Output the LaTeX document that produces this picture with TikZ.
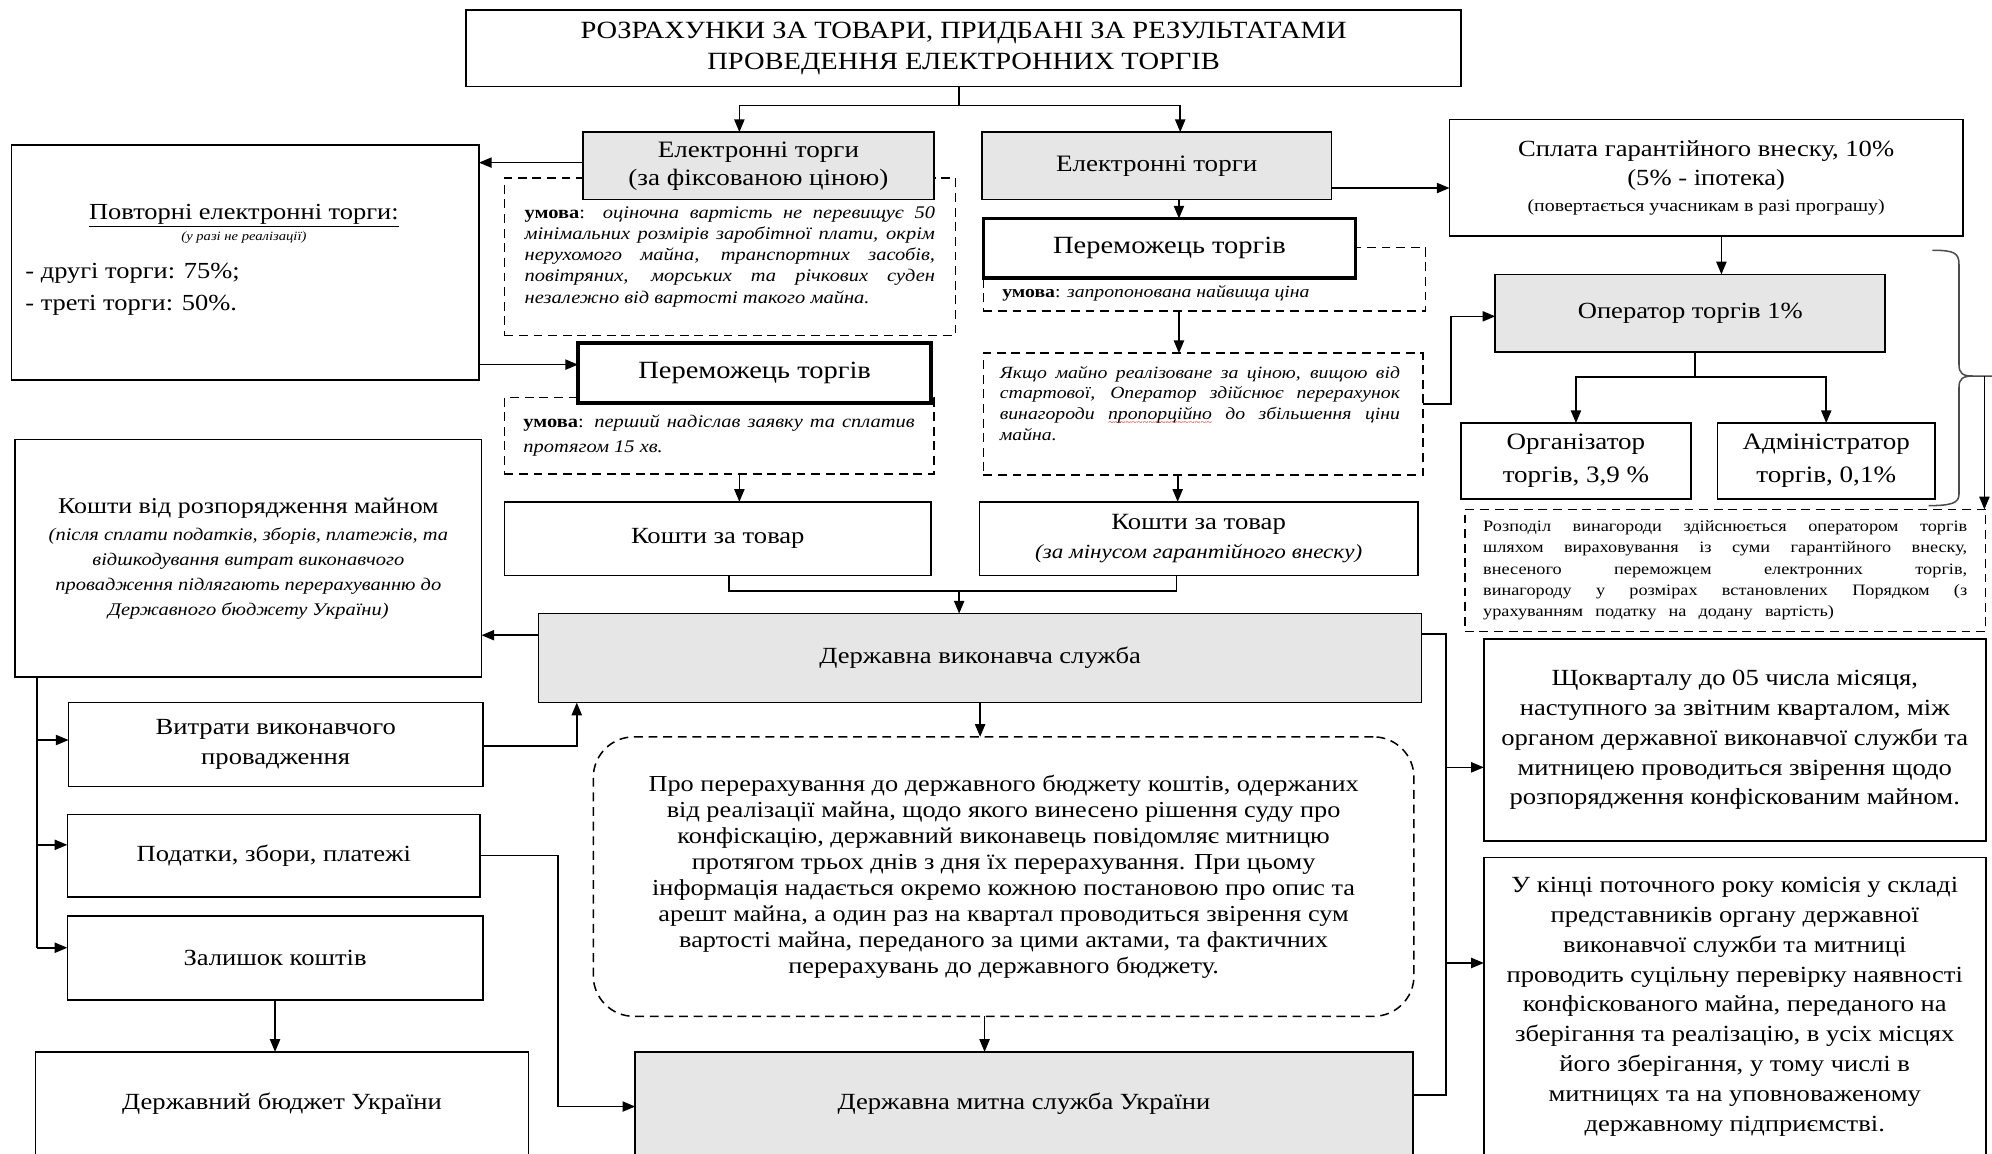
\documentclass[tikz,border=0pt]{standalone}
\usepackage{fontspec}
\setmainfont{Liberation Serif}[FakeStretch=1.15]
\usetikzlibrary{arrows.meta,calc}
\definecolor{boxgray}{RGB}{230,230,230}
\newcommand{\setfs}[2]{\fontsize{#1}{#2}\selectfont}
% wavy red underline (spell-check mark) made of small tildes
\newcommand{\redwave}[1]{\setbox0\hbox{#1}\rlap{\raisebox{-4.5pt}{\color{red}\hbox to \wd0{\xleaders\hbox{\upshape\setfs{7}{7}\char"7E}\hfill}}}\box0\relax}
\newcommand{\cond}{{\upshape\bfseries умова}{\upshape:}}
\begin{document}
\begin{tikzpicture}[x=1pt, y=-1pt,
  base/.style={inner sep=0pt, outer sep=0pt, align=center, line width=1.3pt},
  wh/.style 2 args={minimum width=#1, minimum height=#2},
  box/.style={base, draw, fill=white},
  gbox/.style={base, draw, fill=boxgray},
  tbox/.style={base, draw, fill=white, line width=2.8pt},
  dbox/.style={base, draw, line width=1.2pt, dash pattern=on 7pt off 4.5pt},
  rbox/.style={dbox, rounded corners=32pt},
  txt/.style={inner sep=0pt, outer sep=0pt},
  arr/.style={line width=1.3pt, -{Triangle[length=10pt,width=8pt]}},
  ln/.style={line width=1.3pt},
  main/.style={font=\setfs{18.2}{22}},
]
\useasboundingbox (0,0) rectangle (1568,908);
\clip (0,0) rectangle (1568,908);

% ---------- dashed frames (drawn first, solid boxes overlap them) ----------
\node[dbox, wh={355pt}{124pt}, text width=323pt, align=justify, font=\itshape\setfs{14}{16.75}] (d1) at (574.5,202)
 {\cond{} оціночна вартість не перевищує 50\linebreak
  мінімальних розмірів заробітної плати, окрім\linebreak
  нерухомого майна, транспортних засобів,\linebreak
  повітряних, морських та річкових суден\linebreak
  незалежно від вартості такого майна.};
\node[dbox, wh={338pt}{60pt}, text width=308pt, align=justify, font=\itshape\setfs{14}{20}] (d2) at (566,343)
 {\cond{} перший надіслав заявку та сплатив\linebreak
  протягом 15 хв.};
\node[dbox, wh={348pt}{50pt}] (d3) at (948,220) {};
\node[dbox, wh={346pt}{96pt}] (d4) at (947,326) {};
\node[dbox, wh={410pt}{96pt}, text width=381pt, align=justify, font=\setfs{12.5}{16.75}] (d5) at (1358,449)
 {Розподіл винагороди здійснюється оператором торгів\linebreak
  шляхом вираховування із суми гарантійного внеску,\linebreak
  внесеного переможцем електронних торгів,\linebreak
  винагороду у розмірах встановлених Порядком (з\linebreak
  урахуванням\hspace{6pt} податку\hspace{6pt} на\hspace{6pt} додану\hspace{6pt} вартість)};
\node[rbox, wh={646pt}{220pt}, font=\setfs{18}{20.5}] (rnd) at (790,690)
 {Про перерахування до державного бюджету коштів, одержаних\\
  від реалізації майна, щодо якого винесено рішення суду про\\
  конфіскацію, державний виконавець повідомляє митницю\\
  протягом трьох днів з дня їх перерахування. При цьому\\
  інформація надається окремо кожною постановою про опис та\\
  арешт майна, а один раз на квартал проводиться звірення сум\\
  вартості майна, переданого за цими актами, та фактичних\\
  перерахувань до державного бюджету.};

% ---------- top ----------
\node[box, wh={783pt}{60pt}, font=\setfs{19.5}{24}] (title) at (758.5,38)
 {РОЗРАХУНКИ ЗА ТОВАРИ, ПРИДБАНІ ЗА РЕЗУЛЬТАТАМИ\\ПРОВЕДЕННЯ ЕЛЕКТРОННИХ ТОРГІВ};
\node[gbox, wh={276pt}{53pt}, font=\setfs{18.5}{22}] (eL) at (597,130.5) {Електронні торги\\(за фіксованою ціною)};
\node[gbox, wh={275pt}{53pt}, font=\setfs{18.5}{22}] (eR) at (910.5,130.5) {Електронні торги};

% ---------- left branch ----------
\node[box, wh={368pt}{185pt}] (povt) at (193,206.5) {};
\node[txt, font=\setfs{18.1}{22}] (povtH) at (192,170) {\underline{Повторні електронні торги:}};
\node[txt, font=\itshape\setfs{10}{12}] (povtS) at (192,187) {(у разі не реалізації)};
\node[txt, anchor=west, align=left, font=\setfs{18.1}{25}] (povtL) at (20,227.5) {- другі торги: 75\%;\\- треті торги: 50\%.};
\node[tbox, wh={278pt}{47pt}, font=\setfs{19.5}{22}] (wL) at (594,293.5) {Переможець торгів};
\node[box, wh={336pt}{58pt}, main] (kL) at (565,424) {Кошти за товар};

% ---------- middle branch ----------
\node[tbox, wh={293pt}{47pt}, font=\setfs{19.5}{22}] (wR) at (920.5,195.5) {Переможець торгів};
\node[txt, anchor=west, font=\itshape\setfs{13.5}{16}] (d3t) at (789,231) {\cond{} запропонована найвища ціна};
\node[txt, text width=315pt, align=justify, font=\itshape\setfs{13.5}{16.3}] (d4t) at (944.5,317.5)
 {Якщо майно реалізоване за ціною, вищою від\linebreak
  стартової, Оператор здійснює перерахунок\linebreak
  винагороди \redwave{пропорційно} до збільшення ціни\linebreak
  майна.};
\node[box, wh={345pt}{58pt}, font=\setfs{18.3}{23}] (kR) at (943.5,424)
 {Кошти за товар\\{\itshape\setfs{15.8}{23}(за мінусом гарантійного внеску)}};

% ---------- right branch ----------
\node[box, wh={404pt}{92pt}, font=\setfs{18.2}{23}] (spl) at (1343,140)
 {Сплата гарантійного внеску, 10\%\\(5\% - іпотека)\\[-3pt]{\setfs{13.6}{15}(повертається учасникам в разі програшу)}};
\node[gbox, wh={307pt}{61pt}, main] (oper) at (1330.5,246.5) {Оператор торгів 1\%};
\node[box, wh={181pt}{60pt}, font=\setfs{18.5}{26}] (org) at (1240.5,363) {Організатор\\торгів, 3,9 \%};
\node[box, wh={171pt}{60pt}, font=\setfs{18.5}{26}] (adm) at (1437.5,363) {Адміністратор\\торгів, 0,1\%};

% ---------- lower part ----------
\node[gbox, wh={695pt}{70pt}, main] (dvs) at (771.5,518) {Державна виконавча служба};
\node[box, wh={367pt}{187pt}, font=\setfs{17.75}{22}] (kv) at (195.5,439.5)
 {Кошти від розпорядження майном\\
  {\itshape\setfs{14}{19.5}(після сплати податків, зборів, платежів, та}\\[-2.5pt]
  {\itshape\setfs{14}{19.5}відшкодування витрат виконавчого}\\[-2.5pt]
  {\itshape\setfs{14}{19.5}провадження підлягають перерахуванню до}\\[-2.5pt]
  {\itshape\setfs{14}{19.5}Державного бюджету України)}};
\node[box, wh={326pt}{66pt}, font=\setfs{18.2}{24}] (vytr) at (217,586) {Витрати виконавчого\\провадження};
\node[box, wh={325pt}{65pt}, main] (pod) at (215.5,673.5) {Податки, збори, платежі};
\node[box, wh={327pt}{66pt}, main] (zal) at (216.5,754) {Залишок коштів};
\node[box, wh={388pt}{82pt}, main] (budg) at (222,869) {Державний бюджет України};
\node[gbox, wh={612pt}{82pt}, main] (dms) at (806,869) {Державна митна служба України};
\node[box, wh={395pt}{159pt}, font=\setfs{18.2}{23.5}] (q) at (1365.5,582.5)
 {Щокварталу до 05 числа місяця,\\
  наступного за звітним кварталом, між\\
  органом державної виконавчої служби та\\
  митницею проводиться звірення щодо\\
  розпорядження конфіскованим майном.};
\node[box, wh={395pt}{235pt}, font=\setfs{18.2}{23.5}] (endb) at (1365.5,792.5)
 {У кінці поточного року комісія у складі\\
  представників органу державної\\
  виконавчої служби та митниці\\
  проводить суцільну перевірку наявності\\
  конфіскованого майна, переданого на\\
  зберігання та реалізацію, в усіх місцях\\
  його зберігання, у тому числі в\\
  митницях та на уповноваженому\\
  державному підприємстві.};

% ---------- connectors ----------
\coordinate (tS) at ([xshift=-3.5pt]title.south);
\coordinate (tj) at ([yshift=-15pt]tS);
\coordinate (aL) at ([xshift=-15pt]eL.north);
\coordinate (aR) at ([xshift=18.5pt]eR.north);
\draw[ln] (tS) -- (tj);
\draw[arr] (tj) -| (aL);
\draw[arr] (tj) -| (aR);

\coordinate (pL) at ([yshift=2.5pt]eL.west);
\draw[arr] (pL) -- (pL -| povt.east);
\coordinate (wIn) at ([yshift=6.5pt]wL.west);
\draw[arr] (wIn -| povt.east) -- (wIn);
\coordinate (kIn) at ([xshift=17pt]kL.north);
\draw[arr] (kIn |- d2.south) -- (kIn);

\coordinate (wRin) at ([xshift=7.5pt]wR.north);
\draw[arr] (wRin |- eR.south) -- (wRin);
\coordinate (d4in) at ([xshift=-19pt]d4.north);
\draw[arr] (d4in |- d3.south) -- (d4in);
\coordinate (kRin) at ([xshift=-16.5pt]kR.north);
\draw[arr] (kRin |- d4.south) -- (kRin);

\coordinate (mL) at ([xshift=9pt]kL.south);
\coordinate (mR) at ([xshift=-17.5pt]kR.south);
\coordinate (mj) at ([xshift=-16.5pt,yshift=18pt]dvs.north);
\draw[ln] (mL) |- (mj) -| (mR);
\draw[arr] (mj) -- (mj |- dvs.north);

\coordinate (sIn) at ([yshift=-8pt]spl.west);
\draw[arr] (sIn -| eR.east) -- (sIn);
\coordinate (oIn) at ([xshift=24.5pt]oper.north);
\draw[arr] (oIn |- spl.south) -- (oIn);
\coordinate (d4o) at ([yshift=8pt]d4.east);
\coordinate (oW) at ([yshift=-2.5pt]oper.west);
\draw[arr] (d4o) -- ++(22,0) |- (oW);
\coordinate (oS) at ([xshift=3.5pt]oper.south);
\coordinate (oj) at ([yshift=-20pt]oS);
\draw[ln] (oS) -- (oj);
\draw[arr] (oj) -| (org.north);
\draw[arr] (oj) -| (adm.north);

% brace gathering the shares, pointing to the distribution note
\draw[line width=1.2pt, black!70] (1521,197) .. controls (1538,197) and (1542,199) .. (1542,208) -- (1542,287)
  .. controls (1542,294) and (1545,296) .. (1553,296) -- (1568,296);
\draw[line width=1.2pt, black!70] (1553,296) .. controls (1545,296) and (1542,298) .. (1542,305) -- (1542,389)
  .. controls (1542,396) and (1536,398) .. (1518,398);
\coordinate (btip) at (1562,296);
\draw[arr] (btip) -- (btip |- d5.north);

\coordinate (dW) at ([yshift=18pt]dvs.west);
\draw[arr] (dW) -- (dW -| kv.east);
\coordinate (kvS) at ([xshift=-166.5pt]kv.south);
\coordinate (aV) at ([yshift=3.5pt]vytr.west);
\coordinate (aP) at ([yshift=8.5pt]pod.west);
\coordinate (aZ) at ([yshift=8pt]zal.west);
\draw[ln] (kvS) -- (kvS |- aZ);
\draw[arr] (kvS |- aV) -- (aV);
\draw[arr] (kvS |- aP) -- (aP);
\draw[arr] (kvS |- aZ) -- (aZ);
\coordinate (vE) at ([yshift=-1pt]vytr.east);
\coordinate (dS) at ([xshift=-317.5pt]dvs.south);
\draw[arr] (vE) -| (dS);
\draw[arr] (zal.south) -- (zal.south |- budg.north);
\coordinate (dmW) at ([yshift=-2pt]dms.west);
\draw[arr] (pod.east) -- ++(61,0) |- (dmW);
\coordinate (rS) at ([xshift=-15pt]rnd.south);
\draw[arr] (dvs.south) -- (dvs.south |- rnd.north);
\draw[arr] (rS) -- (rS |- dms.north);

\coordinate (dE) at ([yshift=19pt]dvs.east);
\coordinate (rv) at ([xshift=19pt]dE);
\coordinate (dmE) at ([yshift=7pt]dms.east);
\draw[ln] (dE) -- (rv) |- (dmE);
\coordinate (aQ) at ([yshift=-21.5pt]q.west);
\coordinate (aE) at ([yshift=34.5pt]endb.west);
\draw[arr] (aQ -| rv) -- (aQ);
\draw[arr] (aE -| rv) -- (aE);
\end{tikzpicture}
\end{document}
